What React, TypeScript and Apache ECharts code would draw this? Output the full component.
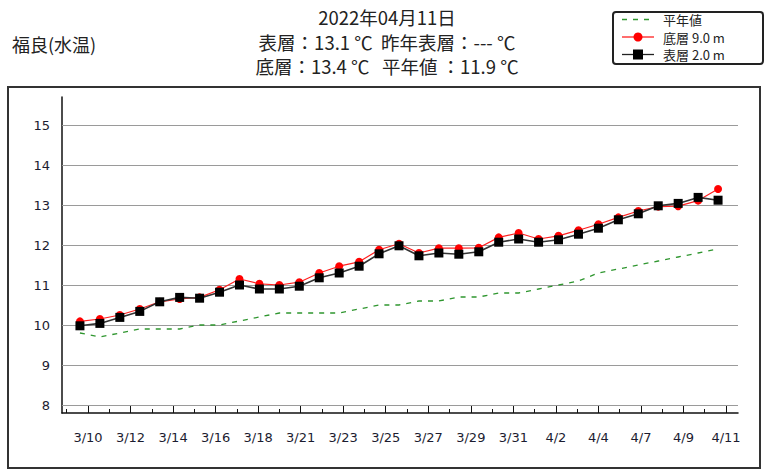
import React, { useEffect, useRef } from "react";
import * as echarts from "echarts";

// Dates of the plotted days (index = position on x axis)
const dates = [
  "3/10", "3/11", "3/12", "3/13", "3/14", "3/15", "3/16", "3/17", "3/18", "3/19", "3/20",
  "3/21", "3/22", "3/23", "3/24", "3/25", "3/26", "3/27", "3/28", "3/29", "3/30", "3/31",
  "4/1", "4/2", "4/3", "4/4", "4/5", "4/6", "4/7", "4/8", "4/9", "4/10", "4/11",
];

// 平年値
const normalValues = [
  9.8, 9.7, 9.8, 9.9, 9.9, 9.9, 10.0, 10.0, 10.1, 10.2, 10.3,
  10.3, 10.3, 10.3, 10.4, 10.5, 10.5, 10.6, 10.6, 10.7, 10.7, 10.8,
  10.8, 10.9, 11.0, 11.1, 11.3, 11.4, 11.5, 11.6, 11.7, 11.8, 11.9,
];

// 底層 9.0 m
const bottomValues = [
  10.09, 10.15, 10.25, 10.4, 10.58, 10.65, 10.69, 10.88, 11.15, 11.03, 11.0,
  11.07, 11.3, 11.47, 11.58, 11.88, 12.03, 11.8, 11.92, 11.92, 11.93, 12.19,
  12.3, 12.15, 12.23, 12.37, 12.52, 12.69, 12.85, 12.96, 12.97, 13.11, 13.4,
];

// 表層 2.0 m
const surfaceValues = [
  9.98, 10.04, 10.19, 10.34, 10.58, 10.69, 10.67, 10.82, 11.0, 10.9, 10.9,
  10.97, 11.18, 11.3, 11.47, 11.78, 11.98, 11.73, 11.8, 11.77, 11.83, 12.07,
  12.15, 12.07, 12.13, 12.27, 12.42, 12.63, 12.78, 12.98, 13.04, 13.19, 13.12,
];

// x tick labels (evenly spaced along the axis)
const tickLabels = [
  "3/10", "3/12", "3/14", "3/16", "3/18", "3/21", "3/23", "3/25",
  "3/27", "3/29", "3/31", "4/2", "4/4", "4/7", "4/9", "4/11",
];

const yTicks = [8, 9, 10, 11, 12, 13, 14, 15];

const titleLines = [
  "2022年04月11日",
  "表層：13.1 ℃  昨年表層：--- ℃",
  "底層：13.4 ℃   平年値 ：11.9 ℃",
];
const stationName = "福良(水温)";
const legendNames = ["平年値", "底層 9.0 m", "表層 2.0 m"];

const CJK = "'Noto Sans CJK JP', 'Noto Sans', sans-serif";
const LATIN = "'DejaVu Sans', Verdana, sans-serif";

export default function App() {
  const ref = useRef<HTMLDivElement>(null);

  useEffect(() => {
    const chart = echarts.init(ref.current!, null, { renderer: "svg" });
    const tickIdx = tickLabels.map((_, i) => i);
    const minorIdx = tickLabels.map((_, i) => i - 0.5);

    const option: any = {
      animation: false,
      backgroundColor: "#ffffff",
      grid: { left: 62, top: 97, width: 676, height: 316, containLabel: false },
      xAxis: [
        {
          type: "value",
          min: -0.9,
          max: 33,
          show: false,
        },
        {
          type: "value",
          position: "bottom",
          min: -0.611,
          max: 15.282,
          axisLine: { show: true, onZero: false, lineStyle: { color: "#111", width: 1.5 } },
          axisTick: {
            show: true,
            inside: true,
            length: 8,
            customValues: tickIdx,
            lineStyle: { color: "#111", width: 1 },
          },
          axisLabel: {
            show: true,
            customValues: tickIdx,
            margin: 18,
            fontSize: 13,
            fontFamily: LATIN,
            color: "#1c1c30",
            formatter: (v: number) => tickLabels[Math.round(v)] ?? "",
          },
          splitLine: { show: false },
        },
        {
          type: "value",
          position: "bottom",
          min: -0.611,
          max: 15.282,
          axisLine: { show: false, onZero: false },
          axisTick: {
            show: true,
            inside: true,
            length: 4,
            customValues: minorIdx,
            lineStyle: { color: "#111", width: 1 },
          },
          axisLabel: { show: false },
          splitLine: { show: false },
        },
      ],
      yAxis: {
        type: "value",
        min: 7.8,
        max: 15.7,
        axisLine: { show: true, onZero: false, lineStyle: { color: "#111", width: 1.5 } },
        axisTick: {
          show: true,
          inside: true,
          length: 8,
          customValues: yTicks,
          lineStyle: { color: "#111", width: 1 },
        },
        axisLabel: {
          customValues: yTicks,
          margin: 12,
          fontSize: 13,
          fontFamily: LATIN,
          color: "#1c1c30",
        },
        splitLine: { show: false },
      },
      series: [
        {
          name: legendNames[0],
          type: "line",
          xAxisIndex: 0,
          data: normalValues.map((v, i) => [i, v]),
          showSymbol: false,
          symbol: "none",
          lineStyle: { color: "#2f962f", width: 1.3, type: [5, 6] },
          z: 2,
          markLine: {
            silent: true,
            symbol: ["none", "none"],
            label: { show: false },
            lineStyle: { color: "#9a9a9a", type: "solid", width: 1.2 },
            data: yTicks.map((t) => ({ yAxis: t })),
            z: 1,
          },
        },
        {
          name: legendNames[1],
          type: "line",
          xAxisIndex: 0,
          data: bottomValues.map((v, i) => [i, v]),
          symbol: "circle",
          symbolSize: 8,
          itemStyle: { color: "#ff0000" },
          lineStyle: { color: "#ff2020", width: 1.2 },
          z: 3,
        },
        {
          name: legendNames[2],
          type: "line",
          xAxisIndex: 0,
          data: surfaceValues.map((v, i) => [i, v]),
          symbol: "rect",
          symbolSize: 9,
          itemStyle: { color: "#000000" },
          lineStyle: { color: "#333333", width: 1.6 },
          z: 4,
        },
      ],
      graphic: [
        {
          type: "rect",
          shape: { x: 8, y: 87, width: 752, height: 381 },
          style: { fill: "none", stroke: "#333", lineWidth: 2 },
          silent: true,
        },
        {
          type: "text",
          x: 12,
          y: 44,
          style: {
            text: stationName,
            fontSize: 18,
            fontFamily: CJK,
            fill: "#222",
            verticalAlign: "middle",
          },
        },
        ...titleLines.map((t, i) => ({
          type: "text",
          x: 387,
          y: [17, 42, 66][i],
          style: {
            text: t,
            fontSize: 18.5,
            fontFamily: CJK,
            fill: "#222",
            align: "center",
            verticalAlign: "middle",
          },
        })),
        {
          type: "rect",
          shape: { x: 613, y: 12, width: 150, height: 52, r: 3 },
          style: { fill: "#fff", stroke: "#222", lineWidth: 2 },
        },
        {
          type: "line",
          shape: { x1: 622, y1: 19.5, x2: 654, y2: 19.5 },
          style: { stroke: "#2f962f", lineWidth: 1.3, lineDash: [5, 6] },
        },
        {
          type: "line",
          shape: { x1: 622, y1: 37, x2: 654, y2: 37 },
          style: { stroke: "#ff2020", lineWidth: 1.3 },
        },
        {
          type: "circle",
          shape: { cx: 638, cy: 37, r: 4.5 },
          style: { fill: "#ff0000" },
        },
        {
          type: "line",
          shape: { x1: 622, y1: 54.5, x2: 654, y2: 54.5 },
          style: { stroke: "#222", lineWidth: 1.3 },
        },
        {
          type: "rect",
          shape: { x: 633, y: 49.5, width: 10, height: 10 },
          style: { fill: "#000" },
        },
        ...legendNames.map((n, i) => ({
          type: "text",
          x: 663,
          y: [19.5, 37, 54.5][i],
          style: {
            text: n,
            fontSize: 13,
            fontFamily: CJK,
            fill: "#222",
            verticalAlign: "middle",
          },
        })),
      ],
    };

    chart.setOption(option);
    return () => chart.dispose();
  }, []);

  return (
    <div
      ref={ref}
      style={{ position: "fixed", left: 0, top: 0, width: 770, height: 469, background: "#fff" }}
    />
  );
}
